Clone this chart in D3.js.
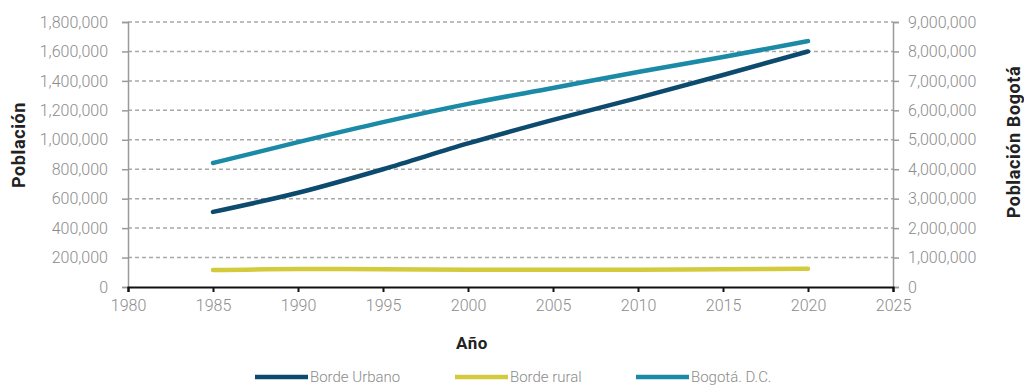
<!DOCTYPE html>
<html lang="es">
<head>
<meta charset="UTF-8">
<title>Población</title>
<script src="https://d3js.org/d3.v7.min.js"></script>
<style>
  body { margin: 0; background: #fff; }
  .tick text { font-family: "Roboto", sans-serif; font-weight: 300; font-size: 16px; fill: #8c8c8c; }
</style>
</head>
<body>
<div id="chart"></div>
<script>
// data
const years = [1985, 1990, 1995, 2000, 2005, 2010, 2015, 2020];
const bordeUrbano = [510000, 640000, 800000, 975000, 1135000, 1285000, 1440000, 1600000];
const bordeRural = [115000, 122000, 121000, 118000, 117000, 118000, 121000, 124000];
const bogota = [4210000, 4920000, 5600000, 6220000, 6760000, 7300000, 7810000, 8350000];
const xTicks = [1980, 1985, 1990, 1995, 2000, 2005, 2010, 2015, 2020, 2025];
const seriesNames = ["Borde Urbano", "Borde rural", "Bogotá. D.C."];
const colors = ["#0c4a6e", "#d3cb3c", "#1a8aa6"];

const width = 1024, height = 389;
const mLeft = 128, mRight = 893, mTop = 22, mBottom = 287;

const svg = d3.select("#chart").append("svg")
    .attr("width", width).attr("height", height);

const x = d3.scaleLinear().domain([1980, 2025]).range([mLeft, mRight]);
const yL = d3.scaleLinear().domain([0, 1800000]).range([mBottom, mTop]);
const yR = d3.scaleLinear().domain([0, 9000000]).range([mBottom, mTop]);

// grid lines
svg.append("g").selectAll("line")
    .data(d3.range(200000, 1800001, 200000))
    .join("line")
    .attr("x1", mLeft).attr("x2", mRight)
    .attr("y1", d => yL(d)).attr("y2", d => yL(d))
    .attr("stroke", "#a8a8a8").attr("stroke-width", 1.5)
    .attr("stroke-dasharray", "4,3");

// left axis
const gl = svg.append("g").attr("transform", `translate(${mLeft},0)`)
    .call(d3.axisLeft(yL).tickValues(d3.range(0, 1800001, 200000))
        .tickFormat(d3.format(",")).tickSize(6).tickPadding(14));
gl.select(".domain").attr("stroke", "#9a9a9a").attr("stroke-width", 1.5);
gl.selectAll(".tick line").attr("stroke", "#9a9a9a").attr("stroke-width", 1.5);

// right axis
const gr = svg.append("g").attr("transform", `translate(${mRight},0)`)
    .call(d3.axisRight(yR).tickValues(d3.range(0, 9000001, 1000000))
        .tickFormat(d3.format(",")).tickSize(6).tickPadding(9));
gr.select(".domain").attr("stroke", "#9a9a9a").attr("stroke-width", 1.5);
gr.selectAll(".tick line").attr("stroke", "#9a9a9a").attr("stroke-width", 1.5);

// bottom axis
const gx = svg.append("g").attr("transform", `translate(0,${mBottom})`)
    .call(d3.axisBottom(x).tickValues(xTicks).tickFormat(d3.format("d"))
        .tickSize(5).tickPadding(8));
gx.select(".domain").attr("stroke", "#111").attr("stroke-width", 2);
gx.selectAll(".tick line").attr("stroke", "#111").attr("stroke-width", 2);

// lines
const line = scale => d3.line().x(d => x(d[0])).y(d => scale(d[1])).curve(d3.curveMonotoneX);
const data = [
    { vals: years.map((y, i) => [y, bordeUrbano[i]]), scale: yL, color: colors[0] },
    { vals: years.map((y, i) => [y, bordeRural[i]]), scale: yL, color: colors[1] },
    { vals: years.map((y, i) => [y, bogota[i]]), scale: yR, color: colors[2] }
];
svg.append("g").selectAll("path")
    .data(data)
    .join("path")
    .attr("d", d => line(d.scale)(d.vals))
    .attr("fill", "none")
    .attr("stroke", d => d.color)
    .attr("stroke-width", 4.5)
    .attr("stroke-linecap", "round");

// axis titles
const titleFont = "Roboto, sans-serif";
svg.append("text").attr("x", 472).attr("y", 349).attr("text-anchor", "middle")
    .attr("font-family", titleFont).attr("font-weight", "bold").attr("font-size", 17)
    .attr("letter-spacing", 0.6).attr("fill", "#222").text("Año");
svg.append("text").attr("transform", "translate(25,145) rotate(-90)").attr("text-anchor", "middle")
    .attr("font-family", titleFont).attr("font-weight", "bold").attr("font-size", 18)
    .attr("letter-spacing", 0.6).attr("fill", "#222").text("Población");
svg.append("text").attr("transform", "translate(1020,142) rotate(-90)").attr("text-anchor", "middle")
    .attr("font-family", titleFont).attr("font-weight", "bold").attr("font-size", 18)
    .attr("letter-spacing", 0.6).attr("fill", "#222").text("Población Bogotá");

// legend
const legendX = [255, 455, 636];
const lg = svg.append("g").selectAll("g")
    .data(seriesNames)
    .join("g")
    .attr("transform", (d, i) => `translate(${legendX[i]},377)`);
lg.append("line").attr("x1", 0).attr("x2", 53).attr("y1", 0).attr("y2", 0)
    .attr("stroke", (d, i) => colors[i]).attr("stroke-width", 4.5);
lg.append("text").attr("x", 55).attr("y", 5)
    .attr("font-family", "Roboto, sans-serif").attr("font-weight", 300).attr("font-size", 15)
    .attr("fill", "#8a8a8a").text(d => d);
</script>
</body>
</html>
